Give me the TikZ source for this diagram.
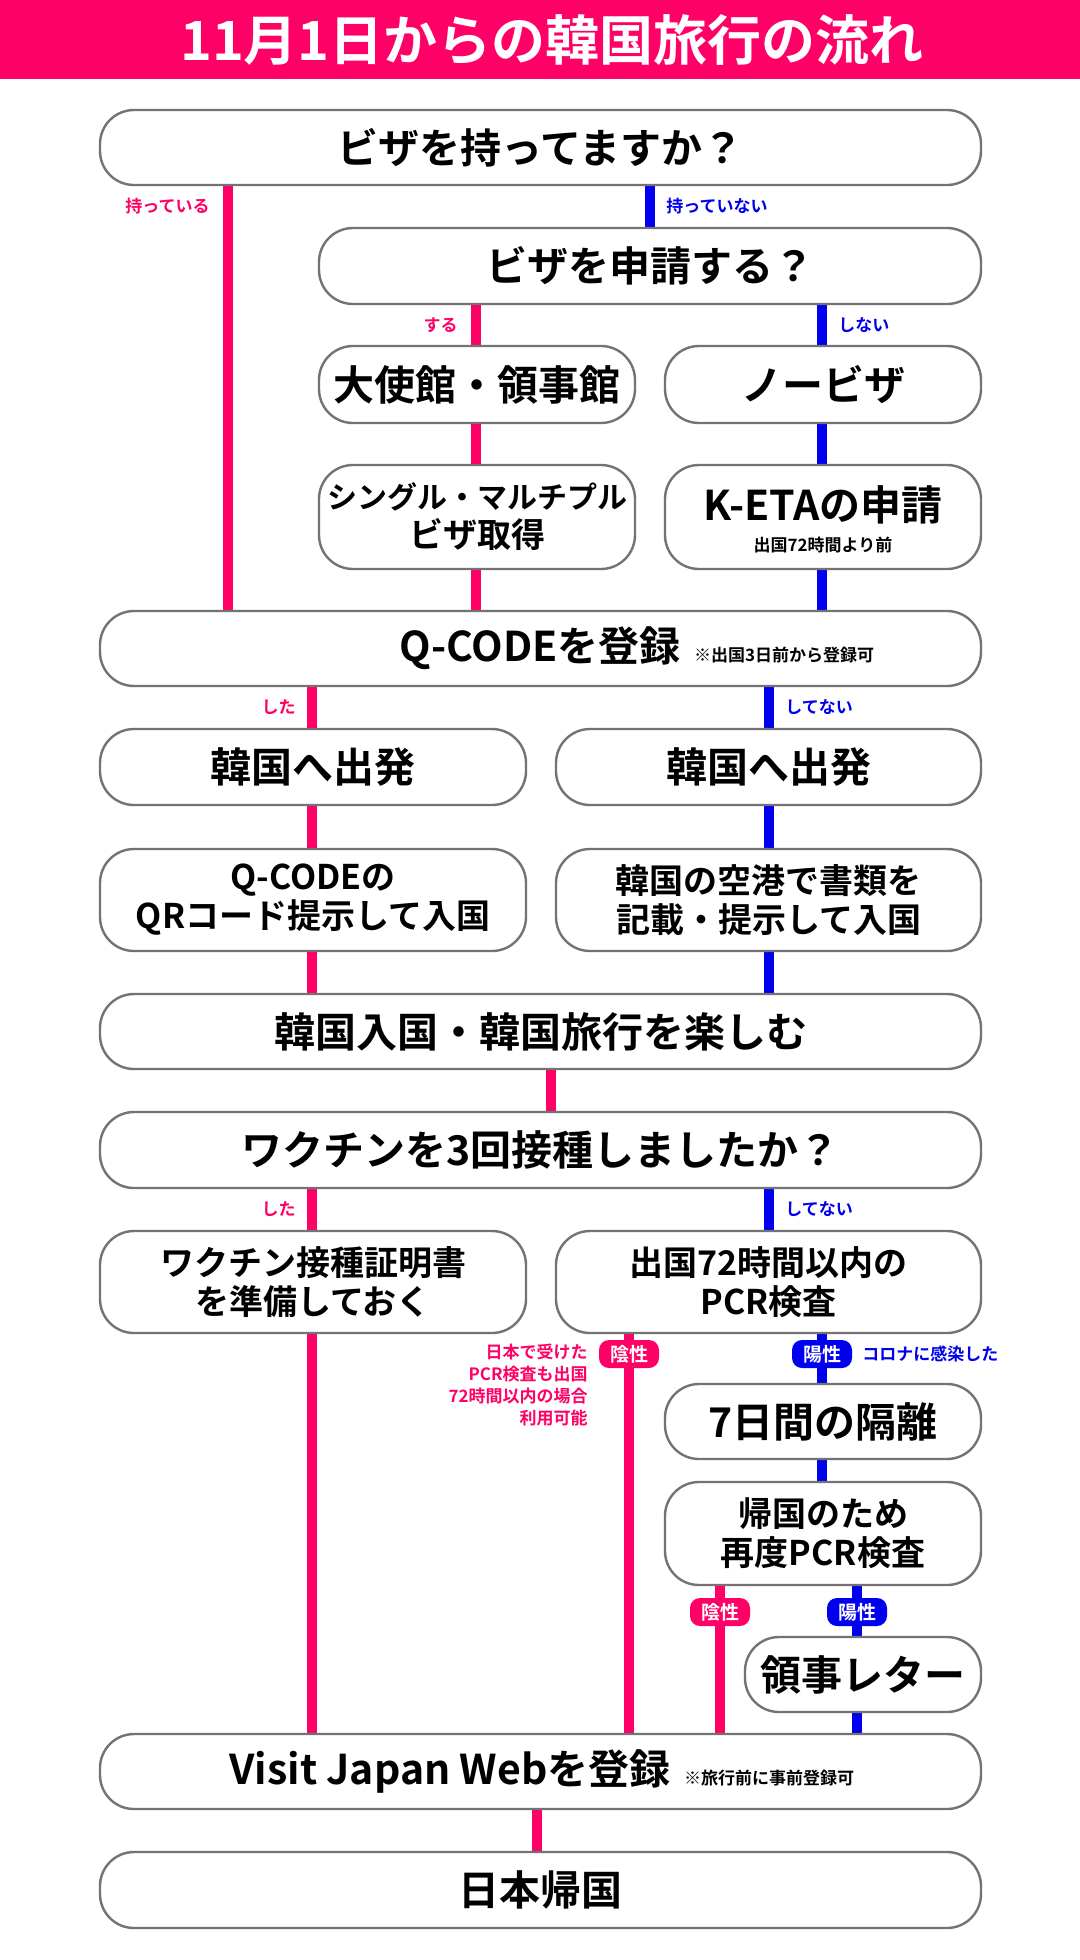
\documentclass[tikz,border=0pt]{standalone}
\usepackage{fontspec}
\setmainfont{Noto Sans CJK JP}[BoldFont={Noto Sans CJK JP Bold}]
\definecolor{mg}{HTML}{FF0066}
\definecolor{bl}{HTML}{0000EE}
\tikzset{
 bx/.style={draw=black!55,line width=1.2pt,fill=white,rounded corners=17pt,inner sep=0pt,align=center,font=\bfseries\fontsize{20.5pt}{23pt}\selectfont},
 bx2/.style={bx,font=\bfseries\fontsize{17pt}{19.5pt}\selectfont},
 bx3/.style={bx,font=\bfseries\fontsize{15pt}{19.5pt}\selectfont},
 lm/.style={mg,line width=5pt},
 lb/.style={bl,line width=5pt},
 lab/.style={font=\bfseries\fontsize{8.5pt}{9pt}\selectfont,inner sep=1pt},
 note/.style={font=\bfseries\fontsize{8.5pt}{9pt}\selectfont,inner sep=0pt},
 pill/.style={rounded corners=5pt,font=\bfseries\fontsize{9.5pt}{10pt}\selectfont,text=white,inner sep=2pt,minimum height=14pt,minimum width=30pt},
}
\newcommand{\bxx}[7][bx]{\node[#1,minimum width={(#5-#3)*0.5pt},minimum height={(#6-#4)*0.5pt}] (#2) at ({(#3+#5)/2},{(#4+#6)/2}) {#7};}
\begin{document}
\begin{tikzpicture}[x=0.5pt,y=-0.5pt]
\useasboundingbox (0,0) rectangle (1080,1960);
\fill[white] (0,0) rectangle (1080,1960);
\fill[mg] (0,0) rectangle (1080,79);
\node[text=white,font=\bfseries\fontsize{27pt}{30pt}\selectfont] (title) at (552,40) {11月1日からの韓国旅行の流れ};
% lines first
\draw[lm] (228,185) -- (228,611);
\node[lab,text=mg,anchor=east] (t1) at (212,206) {持っている};
\draw[lb] (650,185) -- (650,228);
\node[lab,text=bl,anchor=west] (t2) at (664,206) {持っていない};
\draw[lm] (476,304) -- (476,611);
\node[lab,text=mg,anchor=east] (t3) at (460,325) {する};
\draw[lb] (822,304) -- (822,611);
\node[lab,text=bl,anchor=west] (t4) at (836,325) {しない};
\draw[lm] (312,686) -- (312,994);
\node[lab,text=mg,anchor=east] (t5) at (298,707) {した};
\draw[lb] (769,686) -- (769,994);
\node[lab,text=bl,anchor=west] (t6) at (783,707) {してない};
\draw[lm] (551,1069) -- (551,1112);
\draw[lm] (312,1188) -- (312,1734);
\node[lab,text=mg,anchor=east] (t7) at (298,1209) {した};
\draw[lb] (769,1188) -- (769,1231);
\node[lab,text=bl,anchor=west] (t8) at (783,1209) {してない};
\draw[lm] (629,1333) -- (629,1734);
\draw[lb] (822,1333) -- (822,1384);
\draw[lb] (822,1459) -- (822,1482);
\draw[lm] (720,1585) -- (720,1734);
\draw[lb] (857,1585) -- (857,1734);
\draw[lm] (537,1809) -- (537,1852);
% boxes
\bxx{b1}{100}{110}{981}{185}{ビザを持ってますか？}
\bxx{b2}{319}{228}{981}{304}{ビザを申請する？}
\bxx{b3}{319}{346}{635}{423}{大使館・領事館}
\bxx{b4}{665}{346}{981}{423}{ノービザ}
\bxx[bx3]{b5}{319}{465}{635}{569}{シングル・マルチプル\\\fontsize{17pt}{19pt}\selectfont ビザ取得}
\bxx{b6}{665}{465}{981}{569}{}
\node[font=\bfseries\fontsize{20.5pt}{23pt}\selectfont] (b6t) at (823,505) {K-ETAの申請};
\node[note] (b6n) at (823,545) {出国72時間より前};
\bxx{b7}{100}{611}{981}{686}{}
\node[font=\bfseries\fontsize{20.5pt}{23pt}\selectfont] (b7t) at (540,648) {Q-CODEを登録};
\node[note,anchor=base west,xshift=3pt] (b7n) at (b7t.base east) {※出国3日前から登録可};
\bxx{b8}{100}{729}{526}{805}{韓国へ出発}
\bxx{b9}{556}{729}{981}{805}{韓国へ出発}
\bxx[bx2]{b10}{100}{849}{526}{951}{Q-CODEの\\QRコード提示して入国}
\bxx[bx2]{b11}{556}{849}{981}{951}{韓国の空港で書類を\\記載・提示して入国}
\bxx{b12}{100}{994}{981}{1069}{韓国入国・韓国旅行を楽しむ}
\bxx{b13}{100}{1112}{981}{1188}{ワクチンを3回接種しましたか？}
\bxx[bx2]{b14}{100}{1231}{526}{1333}{ワクチン接種証明書\\を準備しておく}
\bxx[bx2]{b15}{556}{1231}{981}{1333}{出国72時間以内の\\PCR検査}
\bxx{b16}{665}{1384}{981}{1459}{7日間の隔離}
\bxx[bx2]{b17}{665}{1482}{981}{1585}{帰国のため\\再度PCR検査}
\bxx{b18}{745}{1637}{981}{1712}{領事レター}
\bxx{b19}{100}{1734}{981}{1809}{}
\node[font=\bfseries\fontsize{20.5pt}{23pt}\selectfont] (b19t) at (450,1771) {Visit Japan Webを登録};
\node[note,anchor=base west,xshift=3pt] (b19n) at (b19t.base east) {※旅行前に事前登録可};
\bxx{b20}{100}{1852}{981}{1928}{日本帰国}
% pills
\node[pill,fill=mg] (p1) at (629,1354) {陰性};
\node[pill,fill=bl] (p2) at (822,1354) {陽性};
\node[pill,fill=mg] (p3) at (720,1612) {陰性};
\node[pill,fill=bl] (p4) at (857,1612) {陽性};
\node[lab,text=mg,align=right,anchor=north east,font=\bfseries\fontsize{8.5pt}{11pt}\selectfont] (n1) at (590,1342) {日本で受けた\\PCR検査も出国\\72時間以内の場合\\利用可能};
\node[lab,text=bl,anchor=west] (n2) at (860,1354) {コロナに感染した};
\end{tikzpicture}
\end{document}
